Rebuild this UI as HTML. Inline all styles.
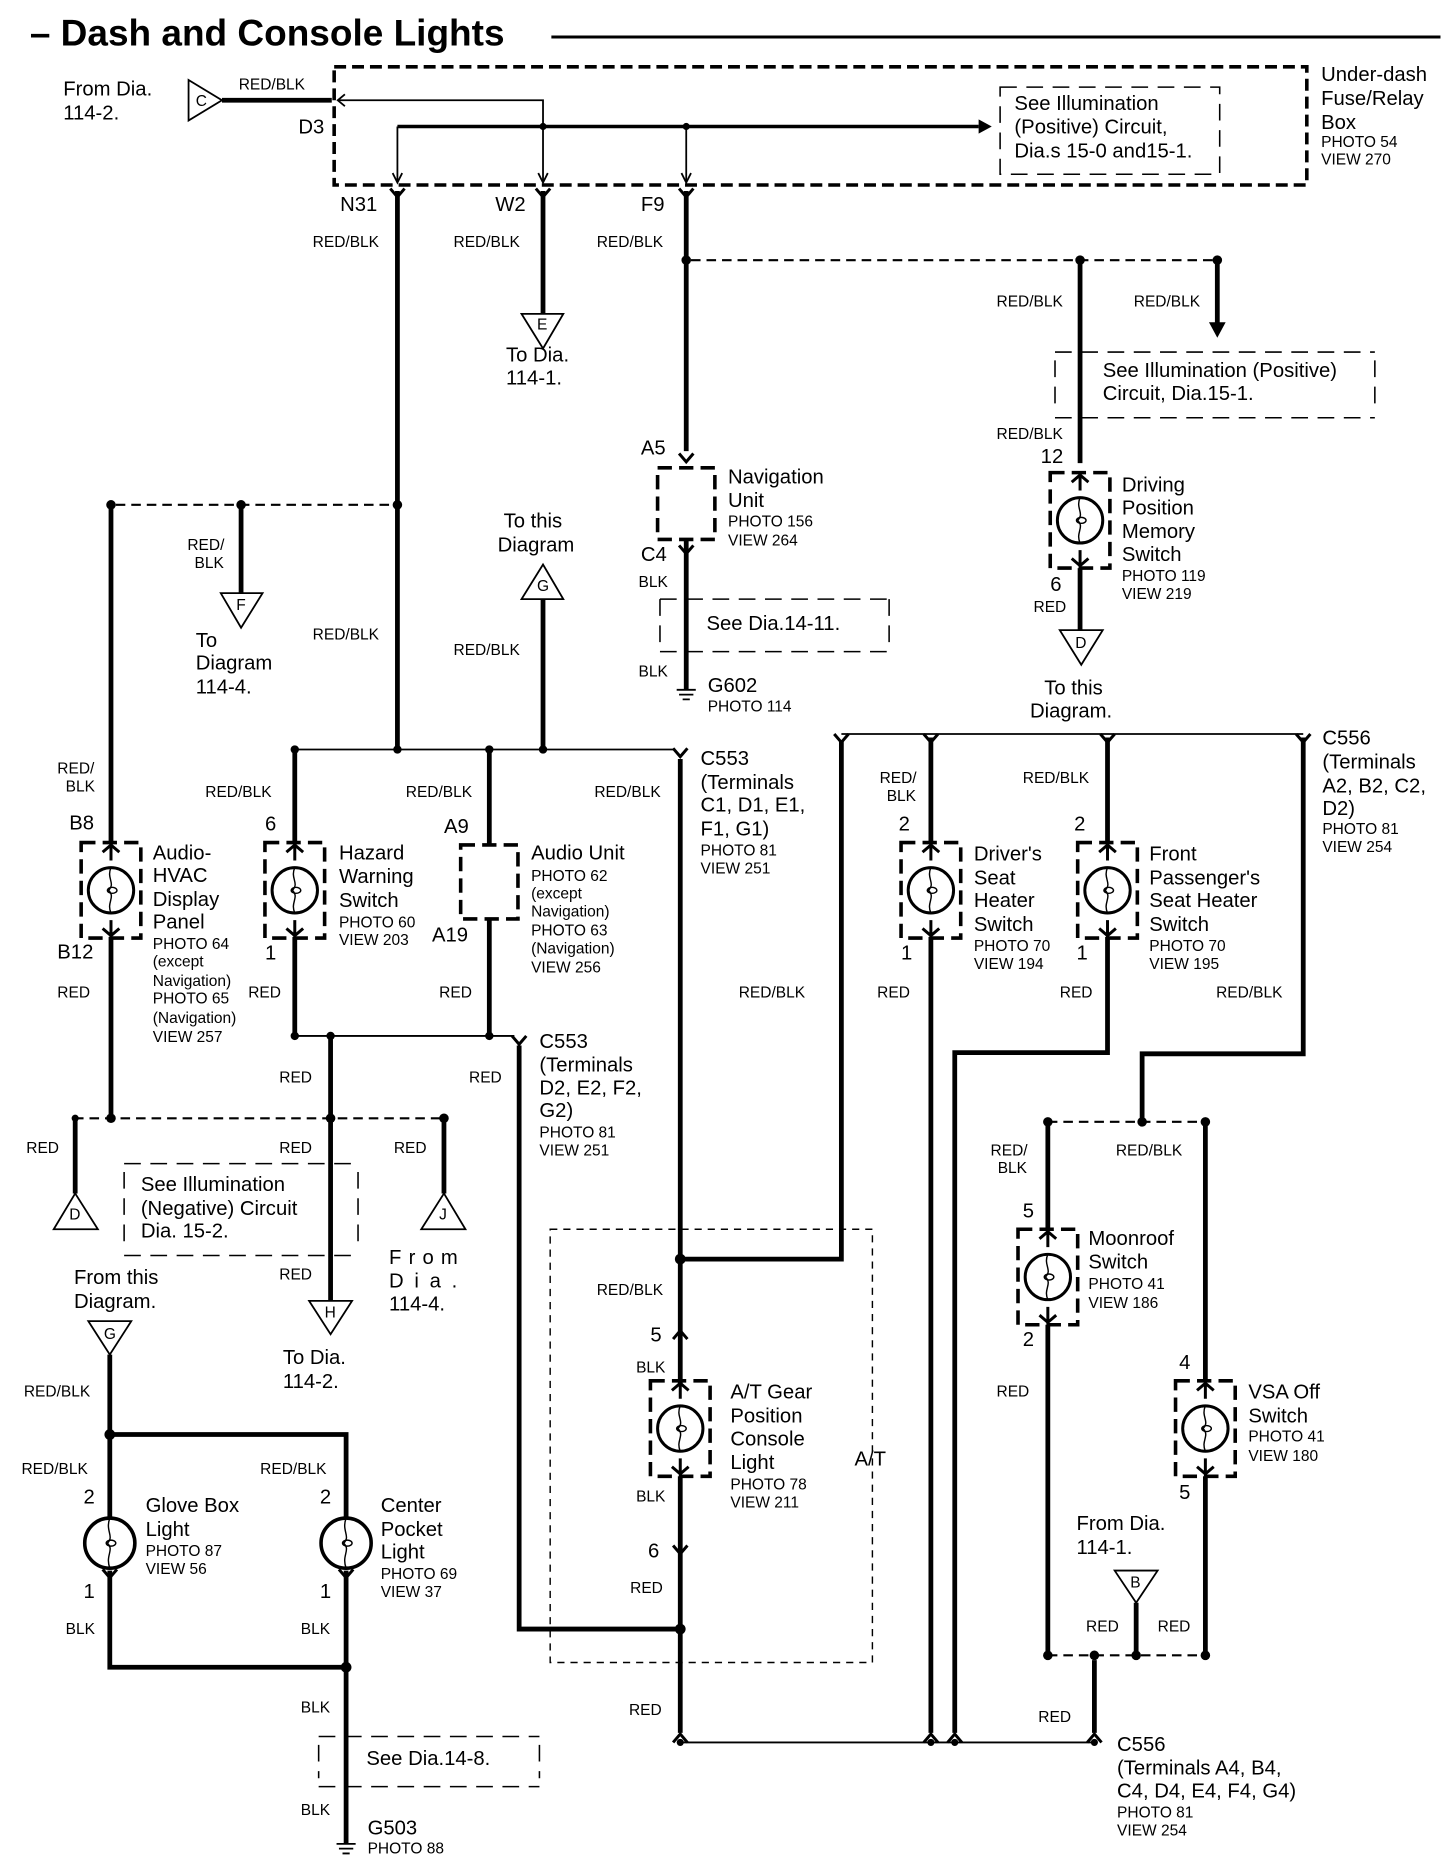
<!DOCTYPE html>
<html><head><meta charset="utf-8"><style>
html,body{margin:0;padding:0;background:#fff}
svg{display:block}
text{font-family:"Liberation Sans",Arial,sans-serif;fill:#000}
.l{font-size:17px}
.w{font-size:13px}
.p{font-size:13px}
.th{stroke:#000;stroke-width:4;fill:none}
.tn{stroke:#000;stroke-width:1.5;fill:none}
.dl{stroke:#000;stroke-width:1.8;fill:none;stroke-dasharray:8 5}
.db{stroke:#000;stroke-width:1.3;fill:none;stroke-dasharray:14 8}
</style></head><body>
<svg width="1456" height="1860" viewBox="0 0 1220 1558.5" xmlns="http://www.w3.org/2000/svg">
<defs>
<symbol id="sw" overflow="visible">
<rect x="-25" y="-40" width="50" height="80" fill="none" stroke="#000" stroke-width="3" stroke-dasharray="12 6"/>
<circle cx="0" cy="0" r="19" fill="none" stroke="#000" stroke-width="2.5"/>
<path d="M0,-19 C-4,-10 4,-6 -2,0 C4,6 -4,10 0,19" fill="none" stroke="#000" stroke-width="1.2"/>
<ellipse cx="1" cy="0" rx="4" ry="2.5" fill="none" stroke="#000" stroke-width="1.2"/>
<path d="M-7,-32 L0,-38 L7,-32 M0,-40 V-25 M-7,32 L0,38 L7,32 M0,40 V25" fill="none" stroke="#000" stroke-width="2.5"/>
</symbol>
<symbol id="bulb" overflow="visible">
<circle cx="0" cy="0" r="21" fill="none" stroke="#000" stroke-width="3"/>
<path d="M0,-21 C-4,-10 4,-6 -2,0 C4,6 -4,10 0,21" fill="none" stroke="#000" stroke-width="1.2"/>
<ellipse cx="1" cy="0" rx="4" ry="2.5" fill="none" stroke="#000" stroke-width="1.2"/>
</symbol>
<symbol id="cv" overflow="visible"><path d="M-6,-5 L0,2 L6,-5" fill="none" stroke="#000" stroke-width="2.5"/></symbol>
<symbol id="cu" overflow="visible"><path d="M-6,5 L0,-2 L6,5" fill="none" stroke="#000" stroke-width="2.5"/></symbol>
</defs>

<!-- title -->
<text x="25" y="38" style="font-size:31px;font-weight:bold">– Dash and Console Lights</text>
<line x1="462" y1="31" x2="1207" y2="31" stroke="#000" stroke-width="2.5"/>

<!-- fuse box -->
<rect x="280" y="56" width="815" height="99" fill="none" stroke="#000" stroke-width="3" stroke-dasharray="10 5"/>
<text class="l" x="1107" y="68">Under-dash</text><text class="l" x="1107" y="88">Fuse/Relay</text><text class="l" x="1107" y="108">Box</text>
<text class="p" x="1107" y="123">PHOTO 54</text><text class="p" x="1107" y="138">VIEW 270</text>
<polygon points="158,67 186,84 158,101" fill="none" stroke="#000" stroke-width="1.5"/><text class="w" x="164" y="89">C</text>
<line class="th" x1="186" y1="84" x2="278" y2="84"/>
<text class="w" x="200" y="75">RED/BLK</text>
<text class="l" x="53" y="80">From Dia.</text><text class="l" x="53" y="100">114-2.</text>
<text class="l" x="250" y="112">D3</text>
<polyline class="tn" points="284,84 455,84 455,152"/>
<path d="M289,79 L283,84 L289,89" class="tn"/>
<line x1="333" y1="106" x2="820" y2="106" stroke="#000" stroke-width="3"/>
<polygon points="820,100 831,106 820,112" fill="#000"/>
<circle cx="455" cy="106" r="3" fill="#000"/><circle cx="575" cy="106" r="3" fill="#000"/>
<polyline class="tn" points="333,106 333,152"/><line class="tn" x1="575" y1="106" x2="575" y2="152"/>
<path d="M329,145 L333,153 L337,145 M451,145 L455,153 L459,145 M571,145 L575,153 L579,145" class="tn"/>
<rect x="838" y="73" width="184" height="73" class="db"/>
<text class="l" x="850" y="92">See       Illumination</text><text class="l" x="850" y="112">(Positive)      Circuit,</text><text class="l" x="850" y="132">Dia.s 15-0 and15-1.</text>

<text class="l" x="285" y="177">N31</text><text class="l" x="415" y="177">W2</text><text class="l" x="537" y="177">F9</text>
<use href="#cv" x="333" y="163"/><use href="#cv" x="455" y="163"/><use href="#cv" x="575" y="163"/>
<line class="th" x1="333" y1="160" x2="333" y2="628"/>
<line class="th" x1="455" y1="160" x2="455" y2="263"/>
<line class="th" x1="575" y1="160" x2="575" y2="378"/>
<text class="w" x="262" y="207">RED/BLK</text><text class="w" x="380" y="207">RED/BLK</text><text class="w" x="500" y="207">RED/BLK</text>
<polygon points="437,263 472,263 455,292" fill="none" stroke="#000" stroke-width="1.5"/><text class="w" x="450" y="276">E</text>
<text class="l" x="424" y="303">To Dia.</text><text class="l" x="424" y="322">114-1.</text>

<!-- top right -->
<circle cx="575" cy="218" r="4" fill="#000"/><circle cx="905" cy="218" r="4" fill="#000"/><circle cx="1020" cy="218" r="4" fill="#000"/>
<line class="dl" x1="579" y1="218" x2="1016" y2="218"/>
<line class="th" x1="905" y1="218" x2="905" y2="388"/>
<line class="th" x1="1020" y1="218" x2="1020" y2="272"/>
<polygon points="1013,270 1027,270 1020,283" fill="#000"/>
<text class="w" x="835" y="257">RED/BLK</text><text class="w" x="950" y="257">RED/BLK</text>
<path d="M884,295 H1152 M884,350 H1152 M884,302 V340 M1152,302 V340" class="db"/>
<text class="l" x="924" y="316">See Illumination (Positive)</text><text class="l" x="924" y="335">Circuit, Dia.15-1.</text>
<text class="w" x="835" y="368">RED/BLK</text><text class="l" x="872" y="388">12</text>
<use href="#sw" x="905" y="436"/>
<text class="l" x="940" y="412">Driving</text><text class="l" x="940" y="431">Position</text><text class="l" x="940" y="451">Memory</text><text class="l" x="940" y="470">Switch</text>
<text class="p" x="940" y="487">PHOTO 119</text><text class="p" x="940" y="502">VIEW 219</text>
<text class="l" x="880" y="495">6</text><line class="th" x1="905" y1="476" x2="905" y2="528"/>
<text class="w" x="866" y="513">RED</text>
<polygon points="888,528 924,528 906,557" fill="none" stroke="#000" stroke-width="1.5"/><text class="w" x="901" y="543">D</text>
<text class="l" x="875" y="582">To this</text><text class="l" x="863" y="601">Diagram.</text>

<!-- nav -->
<text class="l" x="537" y="381">A5</text><use href="#cv" x="575" y="385"/>
<rect x="551" y="392" width="48" height="60" fill="none" stroke="#000" stroke-width="3" stroke-dasharray="12 6"/>
<text class="l" x="610" y="405">Navigation</text><text class="l" x="610" y="425">Unit</text><text class="p" x="610" y="441">PHOTO 156</text><text class="p" x="610" y="457">VIEW 264</text>
<text class="l" x="537" y="470">C4</text><use href="#cv" x="575" y="462"/>
<line class="th" x1="575" y1="452" x2="575" y2="578"/>
<text class="w" x="535" y="492">BLK</text>
<path d="M553,502 H745 M553,546 H745 M553,502 V546 M745,502 V546" class="db"/>
<text class="l" x="592" y="528">See Dia.14-11.</text>
<text class="w" x="535" y="567">BLK</text>
<path d="M567,578 H583 M569,582 H581 M572,586 H578" stroke="#000" stroke-width="1.5"/>
<text class="l" x="593" y="580">G602</text><text class="p" x="593" y="596">PHOTO 114</text>

<!-- left upper -->
<circle cx="333" cy="423" r="4" fill="#000"/><circle cx="93" cy="423" r="4" fill="#000"/><circle cx="202" cy="423" r="4" fill="#000"/>
<line class="dl" x1="97" y1="423" x2="329" y2="423"/>
<line class="th" x1="202" y1="423" x2="202" y2="497"/>
<text class="w" x="157" y="461">RED/</text><text class="w" x="163" y="476">BLK</text>
<polygon points="185,497 220,497 202,526" fill="none" stroke="#000" stroke-width="1.5"/><text class="w" x="198" y="511">F</text>
<text class="l" x="164" y="542">To</text><text class="l" x="164" y="561">Diagram</text><text class="l" x="164" y="581">114-4.</text>
<line class="th" x1="93" y1="423" x2="93" y2="706"/>
<text class="w" x="48" y="648">RED/</text><text class="w" x="55" y="663">BLK</text>
<text class="l" x="58" y="695">B8</text>
<use href="#sw" x="93" y="746"/>
<text class="l" x="128" y="720">Audio-</text><text class="l" x="128" y="739">HVAC</text><text class="l" x="128" y="759">Display</text><text class="l" x="128" y="778">Panel</text>
<text class="p" x="128" y="795">PHOTO 64</text><text class="p" x="128" y="810">(except</text><text class="p" x="128" y="826">Navigation)</text><text class="p" x="128" y="841">PHOTO 65</text><text class="p" x="128" y="857">(Navigation)</text><text class="p" x="128" y="873">VIEW 257</text>
<text class="l" x="48" y="803">B12</text><text class="w" x="48" y="836">RED</text>
<line class="th" x1="93" y1="785" x2="93" y2="937"/>

<polygon points="437,502 472,502 455,473" fill="none" stroke="#000" stroke-width="1.5"/><text class="w" x="450" y="495">G</text>
<text class="l" x="422" y="442">To this</text><text class="l" x="417" y="462">Diagram</text>
<line class="th" x1="455" y1="502" x2="455" y2="628"/>
<text class="w" x="380" y="549">RED/BLK</text><text class="w" x="262" y="536">RED/BLK</text>

<line class="tn" x1="247" y1="628" x2="566" y2="628"/>
<circle cx="247" cy="628" r="3.5" fill="#000"/><circle cx="333" cy="628" r="3.5" fill="#000"/><circle cx="410" cy="628" r="3.5" fill="#000"/><circle cx="455" cy="628" r="3.5" fill="#000"/>
<use href="#cv" x="570" y="632"/>
<text class="l" x="587" y="641">C553</text><text class="l" x="587" y="661">(Terminals</text><text class="l" x="587" y="680">C1, D1, E1,</text><text class="l" x="587" y="700">F1, G1)</text>
<text class="p" x="587" y="717">PHOTO 81</text><text class="p" x="587" y="732">VIEW 251</text>
<text class="w" x="172" y="668">RED/BLK</text><text class="w" x="340" y="668">RED/BLK</text><text class="w" x="498" y="668">RED/BLK</text>

<line class="th" x1="247" y1="628" x2="247" y2="706"/><text class="l" x="222" y="696">6</text>
<use href="#sw" x="247" y="746"/>
<text class="l" x="284" y="720">Hazard</text><text class="l" x="284" y="740">Warning</text><text class="l" x="284" y="760">Switch</text>
<text class="p" x="284" y="777">PHOTO 60</text><text class="p" x="284" y="792">VIEW 203</text>
<text class="l" x="222" y="804">1</text><line class="th" x1="247" y1="785" x2="247" y2="868"/><text class="w" x="208" y="836">RED</text>

<text class="l" x="372" y="698">A9</text><line class="th" x1="410" y1="628" x2="410" y2="708"/>
<rect x="386" y="708" width="48" height="62" fill="none" stroke="#000" stroke-width="3" stroke-dasharray="12 6"/>
<text class="l" x="362" y="789">A19</text><line class="th" x1="410" y1="770" x2="410" y2="868"/><text class="w" x="368" y="836">RED</text>
<text class="l" x="445" y="720">Audio Unit</text><text class="p" x="445" y="738">PHOTO 62</text><text class="p" x="445" y="753">(except</text><text class="p" x="445" y="768">Navigation)</text><text class="p" x="445" y="784">PHOTO 63</text><text class="p" x="445" y="799">(Navigation)</text><text class="p" x="445" y="815">VIEW 256</text>

<line class="tn" x1="247" y1="868" x2="431" y2="868"/>
<circle cx="247" cy="868" r="3.5" fill="#000"/><circle cx="277" cy="868" r="3.5" fill="#000"/><circle cx="410" cy="868" r="3.5" fill="#000"/>
<use href="#cv" x="435" y="873"/>
<text class="l" x="452" y="878">C553</text><text class="l" x="452" y="898">(Terminals</text><text class="l" x="452" y="917">D2, E2, F2,</text><text class="l" x="452" y="936">G2)</text>
<text class="p" x="452" y="953">PHOTO 81</text><text class="p" x="452" y="968">VIEW 251</text>
<line class="th" x1="277" y1="868" x2="277" y2="1090"/>
<text class="w" x="234" y="907">RED</text><text class="w" x="234" y="966">RED</text><text class="w" x="234" y="1072">RED</text>
<polygon points="259,1090 295,1090 277,1118" fill="none" stroke="#000" stroke-width="1.5"/><text class="w" x="272" y="1104">H</text>
<text class="l" x="237" y="1143">To Dia.</text><text class="l" x="237" y="1163">114-2.</text>
<polyline class="th" points="435,876 435,1365 570,1365"/>
<text class="w" x="393" y="907">RED</text>

<line class="dl" x1="62" y1="937" x2="372" y2="937"/>
<circle cx="63" cy="937" r="3" fill="#000"/><circle cx="93" cy="937" r="4" fill="#000"/><circle cx="277" cy="937" r="4" fill="#000"/><circle cx="372" cy="937" r="4" fill="#000"/>
<line class="th" x1="63" y1="937" x2="63" y2="1000"/><text class="w" x="22" y="966">RED</text>
<polygon points="45,1030 82,1030 63,1000" fill="none" stroke="#000" stroke-width="1.5"/><text class="w" x="58" y="1022">D</text>
<line class="th" x1="372" y1="937" x2="372" y2="1000"/><text class="w" x="330" y="966">RED</text>
<polygon points="353,1030 390,1030 372,1000" fill="none" stroke="#000" stroke-width="1.5"/><text class="w" x="368" y="1022">J</text>
<path d="M104,975 H300 M104,1052 H300 M104,982 V1045 M300,982 V1045" class="db"/>
<text class="l" x="118" y="998">See  Illumination</text><text class="l" x="118" y="1018">(Negative) Circuit</text><text class="l" x="118" y="1037">Dia. 15-2.</text>
<text class="l" x="326" y="1059" letter-spacing="6">From</text><text class="l" x="326" y="1079" letter-spacing="9">Dia.</text><text class="l" x="326" y="1098">114-4.</text>

<text class="l" x="62" y="1076">From this</text><text class="l" x="62" y="1096">Diagram.</text>
<polygon points="74,1107 110,1107 92,1135" fill="none" stroke="#000" stroke-width="1.5"/><text class="w" x="87" y="1122">G</text>
<line class="th" x1="92" y1="1135" x2="92" y2="1272"/><text class="w" x="20" y="1170">RED/BLK</text>
<circle cx="92" cy="1202" r="4.5" fill="#000"/>
<polyline class="th" points="92,1202 290,1202 290,1272"/>
<text class="w" x="18" y="1235">RED/BLK</text><text class="w" x="218" y="1235">RED/BLK</text>
<use href="#bulb" x="92" y="1293"/><use href="#bulb" x="290" y="1293"/>
<text class="l" x="70" y="1260">2</text><text class="l" x="268" y="1260">2</text>
<text class="l" x="70" y="1339">1</text><text class="l" x="268" y="1339">1</text>
<use href="#cv" x="92" y="1320"/><use href="#cv" x="290" y="1320"/>
<text class="l" x="122" y="1267">Glove Box</text><text class="l" x="122" y="1287">Light</text><text class="p" x="122" y="1304">PHOTO 87</text><text class="p" x="122" y="1319">VIEW 56</text>
<text class="l" x="319" y="1267">Center</text><text class="l" x="319" y="1287">Pocket</text><text class="l" x="319" y="1306">Light</text><text class="p" x="319" y="1323">PHOTO 69</text><text class="p" x="319" y="1338">VIEW 37</text>
<polyline class="th" points="92,1316 92,1397 290,1397"/>
<line class="th" x1="290" y1="1316" x2="290" y2="1545"/>
<circle cx="290" cy="1397" r="4.5" fill="#000"/>
<text class="w" x="55" y="1369">BLK</text><text class="w" x="252" y="1369">BLK</text><text class="w" x="252" y="1435">BLK</text>
<path d="M267,1455 H452 M267,1497 H452 M267,1462 V1490 M452,1462 V1490" class="db"/>
<text class="l" x="307" y="1479">See Dia.14-8.</text>
<text class="w" x="252" y="1521">BLK</text>
<path d="M282,1545 H298 M284,1549 H296 M287,1553 H293" stroke="#000" stroke-width="1.5"/>
<text class="l" x="308" y="1537">G503</text><text class="p" x="308" y="1553">PHOTO 88</text>

<!-- middle A/T -->
<line class="th" x1="570" y1="636" x2="570" y2="1160"/>
<circle cx="570" cy="1055" r="4.5" fill="#000"/>
<polyline class="th" points="570,1055 705,1055 705,620"/>
<text class="w" x="500" y="1085">RED/BLK</text><text class="w" x="619" y="836">RED/BLK</text>
<text class="l" x="545" y="1124">5</text><use href="#cu" x="570" y="1117"/>
<text class="w" x="533" y="1150">BLK</text>
<use href="#sw" x="570" y="1197"/>
<text class="l" x="612" y="1172">A/T Gear</text><text class="l" x="612" y="1192">Position</text><text class="l" x="612" y="1211">Console</text><text class="l" x="612" y="1231">Light</text>
<text class="p" x="612" y="1248">PHOTO 78</text><text class="p" x="612" y="1263">VIEW 211</text>
<text class="l" x="716" y="1228">A/T</text>
<text class="w" x="533" y="1258">BLK</text>
<line class="th" x1="570" y1="1237" x2="570" y2="1452"/>
<text class="l" x="543" y="1305">6</text><use href="#cv" x="570" y="1300"/>
<text class="w" x="528" y="1335">RED</text>
<circle cx="570" cy="1365" r="4.5" fill="#000"/>
<text class="w" x="527" y="1437">RED</text>
<use href="#cu" x="570" y="1455"/>
<rect x="461" y="1030" width="270" height="363" fill="none" stroke="#000" stroke-width="1.2" stroke-dasharray="6 5"/>

<!-- right -->
<line class="tn" x1="705" y1="615" x2="1092" y2="615"/>
<use href="#cv" x="705" y="620"/><use href="#cv" x="780" y="620"/><use href="#cv" x="928" y="620"/><use href="#cv" x="1092" y="620"/>
<text class="l" x="1108" y="624">C556</text><text class="l" x="1108" y="644">(Terminals</text><text class="l" x="1108" y="664">A2, B2, C2,</text><text class="l" x="1108" y="683">D2)</text>
<text class="p" x="1108" y="699">PHOTO 81</text><text class="p" x="1108" y="714">VIEW 254</text>
<line class="th" x1="780" y1="618" x2="780" y2="706"/>
<text class="w" x="737" y="656">RED/</text><text class="w" x="743" y="671">BLK</text><text class="l" x="753" y="696">2</text>
<use href="#sw" x="780" y="746"/>
<text class="l" x="816" y="721">Driver's</text><text class="l" x="816" y="741">Seat</text><text class="l" x="816" y="760">Heater</text><text class="l" x="816" y="780">Switch</text>
<text class="p" x="816" y="797">PHOTO 70</text><text class="p" x="816" y="812">VIEW 194</text>
<text class="l" x="755" y="804">1</text><line class="th" x1="780" y1="785" x2="780" y2="1452"/><text class="w" x="735" y="836">RED</text>
<line class="th" x1="928" y1="618" x2="928" y2="706"/>
<text class="w" x="857" y="656">RED/BLK</text><text class="l" x="900" y="696">2</text>
<use href="#sw" x="928" y="746"/>
<text class="l" x="963" y="721">Front</text><text class="l" x="963" y="741">Passenger's</text><text class="l" x="963" y="760">Seat Heater</text><text class="l" x="963" y="780">Switch</text>
<text class="p" x="963" y="797">PHOTO 70</text><text class="p" x="963" y="812">VIEW 195</text>
<text class="l" x="902" y="804">1</text><polyline class="th" points="928,785 928,882 800,882 800,1452"/><text class="w" x="888" y="836">RED</text>
<polyline class="th" points="1092,618 1092,883 957,883 957,940"/><text class="w" x="1019" y="836">RED/BLK</text>

<line class="dl" x1="878" y1="940" x2="1010" y2="940"/>
<circle cx="878" cy="940" r="4" fill="#000"/><circle cx="957" cy="940" r="4" fill="#000"/><circle cx="1010" cy="940" r="4" fill="#000"/>
<line class="th" x1="878" y1="940" x2="878" y2="1030"/>
<text class="w" x="830" y="968">RED/</text><text class="w" x="836" y="983">BLK</text><text class="w" x="935" y="968">RED/BLK</text>
<text class="l" x="857" y="1020">5</text>
<use href="#sw" x="878" y="1070"/>
<text class="l" x="912" y="1043">Moonroof</text><text class="l" x="912" y="1063">Switch</text><text class="p" x="912" y="1080">PHOTO 41</text><text class="p" x="912" y="1096">VIEW 186</text>
<text class="l" x="857" y="1128">2</text><line class="th" x1="878" y1="1110" x2="878" y2="1387"/><text class="w" x="835" y="1170">RED</text>
<line class="th" x1="1010" y1="940" x2="1010" y2="1158"/><text class="l" x="988" y="1147">4</text>
<use href="#sw" x="1010" y="1197"/>
<text class="l" x="1046" y="1172">VSA Off</text><text class="l" x="1046" y="1192">Switch</text><text class="p" x="1046" y="1208">PHOTO 41</text><text class="p" x="1046" y="1224">VIEW 180</text>
<text class="l" x="988" y="1256">5</text><line class="th" x1="1010" y1="1237" x2="1010" y2="1387"/>
<text class="l" x="902" y="1282">From Dia.</text><text class="l" x="902" y="1302">114-1.</text>
<polygon points="934,1316 970,1316 952,1343" fill="none" stroke="#000" stroke-width="1.5"/><text class="w" x="947" y="1330">B</text>
<line class="th" x1="952" y1="1343" x2="952" y2="1387"/>
<text class="w" x="910" y="1367">RED</text><text class="w" x="970" y="1367">RED</text>
<line class="dl" x1="878" y1="1387" x2="1010" y2="1387"/>
<circle cx="878" cy="1387" r="4" fill="#000"/><circle cx="917" cy="1387" r="4" fill="#000"/><circle cx="952" cy="1387" r="4" fill="#000"/><circle cx="1010" cy="1387" r="4" fill="#000"/>
<line class="th" x1="917" y1="1391" x2="917" y2="1452"/>
<text class="w" x="870" y="1443">RED</text>
<line class="tn" x1="570" y1="1460" x2="917" y2="1460"/>
<use href="#cu" x="780" y="1455"/><use href="#cu" x="800" y="1455"/><use href="#cu" x="917" y="1455"/>
<circle cx="570" cy="1460" r="3" fill="#000"/><circle cx="780" cy="1460" r="3" fill="#000"/><circle cx="800" cy="1460" r="3" fill="#000"/><circle cx="917" cy="1460" r="3" fill="#000"/>
<text class="l" x="936" y="1467">C556</text><text class="l" x="936" y="1487">(Terminals A4, B4,</text><text class="l" x="936" y="1506">C4, D4, E4, F4, G4)</text>
<text class="p" x="936" y="1523">PHOTO 81</text><text class="p" x="936" y="1538">VIEW 254</text>
</svg>
</body></html>
